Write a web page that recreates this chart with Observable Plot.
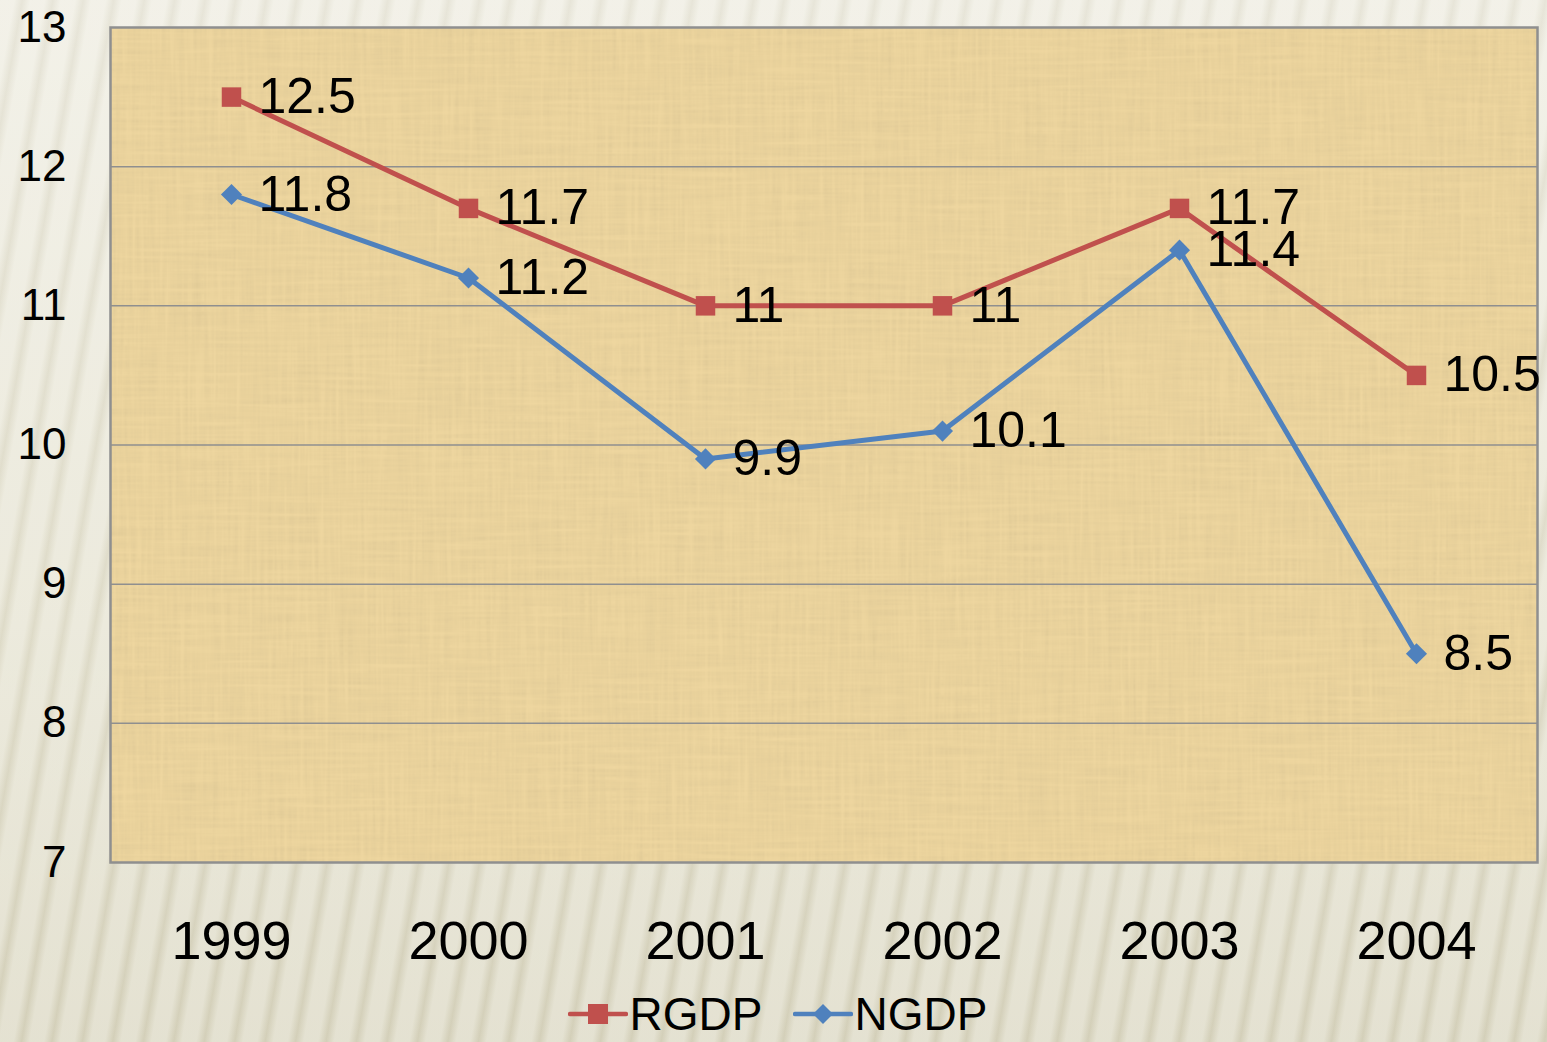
<!DOCTYPE html>
<html>
<head>
<meta charset="utf-8">
<script src="https://cdn.jsdelivr.net/npm/d3@7"></script>
<script src="https://cdn.jsdelivr.net/npm/@observablehq/plot@0.6"></script>
<style>
  html, body { margin: 0; padding: 0; }
  body {
    width: 1547px; height: 1042px; overflow: hidden;
    font-family: "Liberation Sans", Arial, sans-serif;
    background-color: #e3e0cf;
    background-image:
      repeating-linear-gradient(100deg, rgba(255,255,250,0.35) 0px, rgba(255,255,250,0.35) 14px, rgba(190,185,160,0.10) 22px, rgba(255,255,250,0.35) 30px),
      linear-gradient(180deg, #eceadf 0%, #e2dfcd 60%, #d6d2bc 100%);
  }
  #chart svg { display: block; }
  #legend {
    height: 57px; display: flex; justify-content: center; align-items: center;
    font-size: 46px; color: #000; gap: 30px; margin-left: 8px;
  }
  .item { display: flex; align-items: center; }
  .item svg { display: block; margin-right: 2px; }
</style>
</head>
<body>
<div id="chart"></div>
<div id="legend"></div>
<script>
const years = ["1999", "2000", "2001", "2002", "2003", "2004"];
const rgdp = [12.5, 11.7, 11, 11, 11.7, 10.5];
const ngdp = [11.8, 11.2, 9.9, 10.1, 11.4, 8.5];
const yTicks = [7, 8, 9, 10, 11, 12, 13];
const seriesNames = ["RGDP", "NGDP"];
const colors = {RGDP: "#c0504d", NGDP: "#4f81bd"};

const data = [];
years.forEach((y, i) => {
  data.push({year: y, value: rgdp[i], series: "RGDP"});
  data.push({year: y, value: ngdp[i], series: "NGDP"});
});
const rData = data.filter(d => d.series === "RGDP");
const nData = data.filter(d => d.series === "NGDP");

const chart = Plot.plot({
  width: 1547,
  height: 985,
  marginLeft: 110,
  marginRight: 10,
  marginTop: 27,
  marginBottom: 123,
  style: {fontFamily: "'Liberation Sans', Arial, sans-serif", background: "transparent", color: "#000"},
  x: {type: "point", domain: years, padding: 0.5, label: null},
  y: {domain: [7, 13], label: null},
  marks: [
    Plot.frame({fill: "#eed69f", stroke: "none"}),
    Plot.ruleY(yTicks.slice(1, -1), {stroke: "#8f8f8f", strokeWidth: 1.5}),
    Plot.frame({stroke: "#8f8f8f", strokeWidth: 2.5}),
    Plot.axisY(yTicks, {tickSize: 0, tickPadding: 44, fontSize: 44, textAnchor: "end", tickFormat: d => String(d)}),
    Plot.axisX(years, {tickSize: 0, tickPadding: 58, fontSize: 54}),
    Plot.line(nData, {x: "year", y: "value", stroke: colors.NGDP, strokeWidth: 5}),
    Plot.line(rData, {x: "year", y: "value", stroke: colors.RGDP, strokeWidth: 5}),
    Plot.dot(nData, {x: "year", y: "value", symbol: "diamond2", r: 9.5, fill: colors.NGDP, stroke: "none"}),
    Plot.dot(rData, {x: "year", y: "value", symbol: "square", r: 11, fill: colors.RGDP, stroke: "none"}),
    Plot.text(rData, {x: "year", y: "value", text: d => String(d.value), dx: 27, textAnchor: "start", fontSize: 50, fill: "#000"}),
    Plot.text(nData, {x: "year", y: "value", text: d => String(d.value), dx: 27, textAnchor: "start", fontSize: 50, fill: "#000"})
  ]
});
document.getElementById("chart").appendChild(chart);

// subtle parchment texture on the plot frame
(function () {
  const svg = d3.select(chart);
  const defs = svg.insert("defs", ":first-child");
  const f = defs.append("filter").attr("id", "papyrus").attr("x", 0).attr("y", 0).attr("width", 1).attr("height", 1);
  f.append("feTurbulence").attr("type", "fractalNoise").attr("baseFrequency", "0.25 0.012").attr("numOctaves", 2).attr("seed", 3).attr("result", "n1");
  f.append("feTurbulence").attr("type", "fractalNoise").attr("baseFrequency", "0.012 0.25").attr("numOctaves", 2).attr("seed", 7).attr("result", "n2");
  f.append("feBlend").attr("in", "n1").attr("in2", "n2").attr("mode", "multiply").attr("result", "n");
  f.append("feColorMatrix").attr("in", "n").attr("type", "matrix")
    .attr("values", "0 0 0 0 0.6  0 0 0 0 0.48  0 0 0 0 0.25  0.7 0 0 0 -0.14").attr("result", "tex");
  f.append("feComposite").attr("in", "tex").attr("in2", "SourceGraphic").attr("operator", "atop").attr("result", "t2");
  f.append("feMerge").call(m => { m.append("feMergeNode").attr("in", "SourceGraphic"); m.append("feMergeNode").attr("in", "t2"); });
  const firstFrame = svg.selectAll("[aria-label=frame]").nodes()[0];
  if (firstFrame) d3.select(firstFrame).attr("filter", "url(#papyrus)");
})();

// legend
const legend = d3.select("#legend");
seriesNames.forEach(name => {
  const item = legend.append("div").attr("class", "item");
  const s = item.append("svg").attr("width", 60).attr("height", 24);
  s.append("line").attr("x1", 2).attr("x2", 58).attr("y1", 12).attr("y2", 12)
    .attr("stroke", colors[name]).attr("stroke-width", 4.5).attr("stroke-linecap", "round");
  if (name === "RGDP") {
    s.append("rect").attr("x", 20).attr("y", 2).attr("width", 20).attr("height", 20).attr("fill", colors[name]);
  } else {
    s.append("path").attr("d", "M30,2 L40,12 L30,22 L20,12 Z").attr("fill", colors[name]);
  }
  item.append("span").text(name);
});
</script>
</body>
</html>
